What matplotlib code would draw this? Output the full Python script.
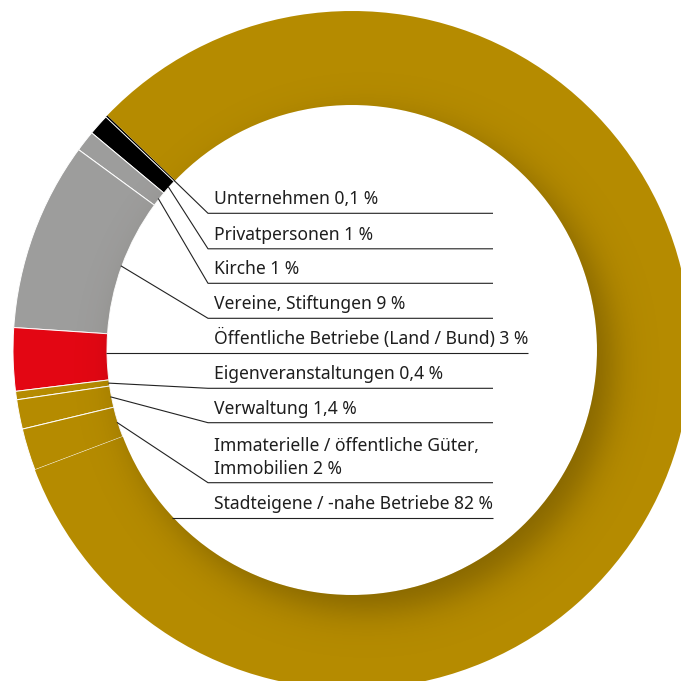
import numpy as np
import matplotlib
matplotlib.use("Agg")
import matplotlib.pyplot as plt
from matplotlib.patches import Wedge

# data (top-to-bottom order of the legend, counter-clockwise on the ring)
labels = [
    "Unternehmen 0,1 %",
    "Privatpersonen 1 %",
    "Kirche 1 %",
    "Vereine, Stiftungen 9 %",
    "Öffentliche Betriebe (Land / Bund) 3 %",
    "Eigenveranstaltungen 0,4 %",
    "Verwaltung 1,4 %",
    "Immaterielle / öffentliche Güter,\nImmobilien 2 %",
    "Stadteigene / -nahe Betriebe 82 %",
]
shares = [0.1, 1, 1, 9, 3, 0.4, 1.4, 2, 82]

GOLD = "#b58b00"
RED = "#e30613"
GRAY = "#9d9d9c"
BLACK = "#000000"
colors = [BLACK, BLACK, GRAY, GRAY, RED, GOLD, GOLD, GOLD, GOLD]

# layout (pixel space, y up)
W = H = 681
CX, CY = 352, 331
R_OUT, WIDTH = 339, 94
R_IN = R_OUT - WIDTH

line_y = [213.3, 248.8, 283.3, 318.3, 352.7, 388.3, 422.7, 482.7, 517.7]  # from top
line_end = [493, 493, 493, 493, 528, 493, 493, 493, 493]
ELBOW_X = 208
TEXT_X = 214
LINE_GAP = 23

fig = plt.figure(figsize=(6.81, 6.81), dpi=100)
ax = fig.add_axes([0, 0, 1, 1])

wedges, _ = ax.pie(shares, colors=colors, startangle=136.2, counterclock=True,
                   radius=R_OUT, center=(CX, CY), normalize=True,
                   wedgeprops=dict(width=WIDTH, edgecolor="white", linewidth=0.7))
# no white seam between the big gold slice and the thin black one
wedges[0].set_edgecolor("none")
wedges[-1].set_edgecolor("none")

# soft shadow of the inner disc, falling to the lower right onto the ring
ring = Wedge((CX, CY), R_OUT, 0, 360, width=WIDTH, transform=ax.transData)
xs = np.arange(CX - R_OUT, CX + R_OUT + 1, 1.0)
ys = np.arange(CY - R_OUT, CY + R_OUT + 1, 1.0)
X, Y = np.meshgrid(xs, ys)
sx, sy = CX + 15, CY - 15
d = np.hypot(X - sx, Y - sy) - R_IN
alpha = 0.32 / (1 + np.exp(d / 11.0))
shade = np.zeros(X.shape + (4,))
shade[..., 0] = 0.12
shade[..., 1] = 0.08
shade[..., 3] = alpha
im = ax.imshow(shade, origin="lower", extent=(xs[0], xs[-1], ys[0], ys[-1]),
               interpolation="bilinear", zorder=2)
im.set_clip_path(ring)

# leader lines and labels
for i, w in enumerate(wedges):
    if i == len(wedges) - 1:
        ang = np.deg2rad(223)
    else:
        ang = np.deg2rad((w.theta1 + w.theta2) / 2)
    ax0 = CX + (R_IN + 1) * np.cos(ang)
    ay0 = CY + (R_IN + 1) * np.sin(ang)
    ly = H - line_y[i]
    if i in (4, 8):
        xs_l = [ax0, line_end[i]]
        ys_l = [ly, ly]
    else:
        xs_l = [ax0, ELBOW_X, line_end[i]]
        ys_l = [ay0, ly, ly]
    ax.plot(xs_l, ys_l, color="#222222", lw=0.8, zorder=3, solid_capstyle="butt")
    rows = labels[i].split("\n")
    for k, row in enumerate(rows):
        base = ly + 9 + (len(rows) - 1 - k) * LINE_GAP
        ax.text(TEXT_X, base, row, fontsize=12.6, family="Noto Sans",
                color="#1e1e1e", va="baseline", ha="left", zorder=4)

ax.set_xlim(0, W)
ax.set_ylim(0, H)
ax.set_aspect("equal")
ax.axis("off")
fig.savefig("out.png", dpi=100)
